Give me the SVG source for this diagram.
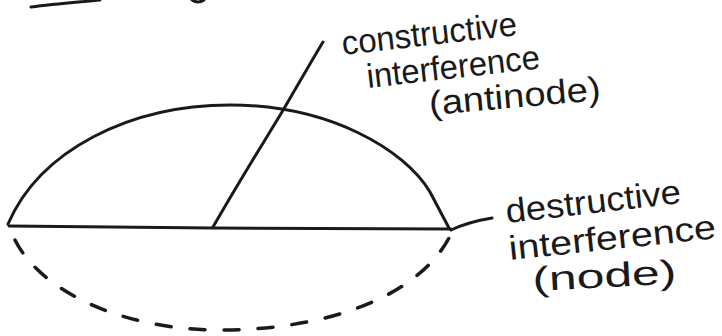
<svg xmlns="http://www.w3.org/2000/svg" width="722" height="336" viewBox="0 0 722 336">
<style>
.ink{fill:none;stroke:#1a1a1a;stroke-width:3;stroke-linecap:round;stroke-linejoin:round}
.dash{stroke-dasharray:15 19;stroke-width:3.5}
.lbl{font-family:"Liberation Sans",Arial,sans-serif;font-size:34px;fill:#1a1a1a}
</style>
<rect width="722" height="336" fill="#fff"/>
<g id="top-remnant">
<path class="ink" d="M31,7 C55,4 80,2 100,0" stroke-width="4"/>
<path class="ink" d="M192,0 Q198,4 204,0" stroke-width="4"/>
</g>
<g id="wave">
<path class="ink" d="M8,224 C40,150 130,105 230,105 C330,105 405,150 430,192 L449,228"/>
<path class="ink" d="M9,226 L213,228 L451,229"/>
<path class="ink dash" d="M15,240 C40,290 120,330 220,330 C330,330 420,295 450,236"/>
</g>
<g id="connectors">
<path class="ink" d="M213,227 C240,180 262,145 282,112 C298,85 312,60 323,42" stroke-width="2.5"/>
<path class="ink" d="M451,230 Q468,222 492,218" stroke-width="2.5"/>
</g>
<g id="antinode-label">
<text class="lbl" transform="translate(343,55) rotate(-6.5)" textLength="176" lengthAdjust="spacingAndGlyphs">constructive</text>
<text class="lbl" transform="translate(368,88) rotate(-6.5)" textLength="174" lengthAdjust="spacingAndGlyphs">interference</text>
<text class="lbl" transform="translate(430,115) rotate(-5)" textLength="172" lengthAdjust="spacingAndGlyphs">(antinode)</text>
</g>
<g id="node-label">
<text class="lbl" transform="translate(507,223) rotate(-6.5)" textLength="176" lengthAdjust="spacingAndGlyphs">destructive</text>
<text class="lbl" transform="translate(510,260) rotate(-6)" textLength="208" lengthAdjust="spacingAndGlyphs">interference</text>
<text class="lbl" transform="translate(533,291) rotate(-3)" textLength="144" lengthAdjust="spacingAndGlyphs">(node)</text>
</g>
</svg>
